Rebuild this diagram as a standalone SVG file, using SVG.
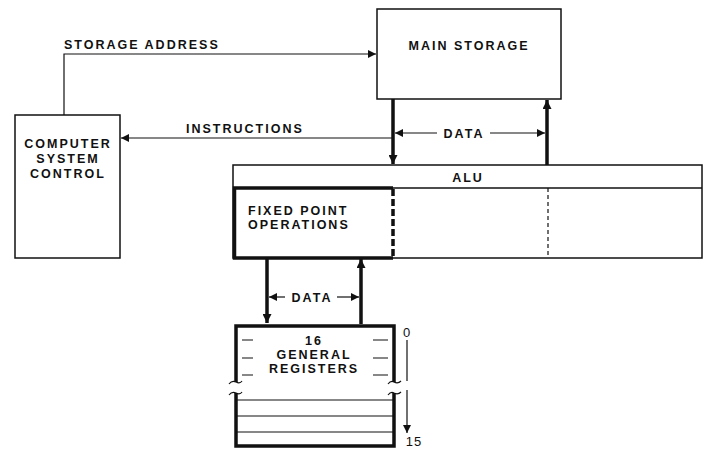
<svg xmlns="http://www.w3.org/2000/svg" width="709" height="449" viewBox="0 0 709 449">
<defs>
<style>
.t{font-family:"Liberation Sans",Arial,sans-serif;font-weight:bold;font-size:12.5px;fill:#111;letter-spacing:2px}
.n{font-family:"Liberation Sans",Arial,sans-serif;font-size:13px;fill:#111;letter-spacing:1px}
.thin{fill:none;stroke:#111;stroke-width:1.5}
.thick{fill:none;stroke:#111;stroke-width:3.5}
.hair{fill:none;stroke:#111;stroke-width:1.2}
</style>
<marker id="ah" viewBox="0 0 10 10" refX="10" refY="5" markerWidth="10" markerHeight="8" markerUnits="userSpaceOnUse" orient="auto">
<path d="M0,0 L10,5 L0,10 z" fill="#111"/>
</marker>
<marker id="ahb" viewBox="0 0 10 10" refX="10" refY="5" markerWidth="10" markerHeight="9" markerUnits="userSpaceOnUse" orient="auto">
<path d="M0,0 L10,5 L0,10 z" fill="#111"/>
</marker>
</defs>
<rect width="709" height="449" fill="#fff"/>

<g id="connectors">
<path class="hair" d="M64,115 V54 H376" marker-end="url(#ah)"/>
<text class="t" x="64" y="49">STORAGE ADDRESS</text>
<path class="hair" d="M393,138 H121" marker-end="url(#ah)"/>
<text class="t" x="186" y="133">INSTRUCTIONS</text>
<path class="thick" d="M393,99 V164" marker-end="url(#ahb)"/>
<path class="thick" d="M547,165 V100" marker-end="url(#ahb)"/>
<path class="hair" d="M437,133 H395" marker-end="url(#ah)"/>
<path class="hair" d="M490,133 H545" marker-end="url(#ah)"/>
<text class="t" x="464" y="137.5" text-anchor="middle">DATA</text>
<path class="thick" d="M267,258 V323" marker-end="url(#ahb)"/>
<path class="thick" d="M361,324 V259" marker-end="url(#ahb)"/>
<path class="hair" d="M285,297 H269" marker-end="url(#ah)"/>
<path class="hair" d="M337,297 H359" marker-end="url(#ah)"/>
<text class="t" x="312" y="301.5" text-anchor="middle">DATA</text>
</g>

<g id="main-storage">
<rect class="thin" x="377" y="9" width="184" height="90"/>
<text class="t" x="469" y="50" text-anchor="middle">MAIN STORAGE</text>
</g>

<g id="computer-system-control">
<rect class="thin" x="15" y="115" width="105" height="143"/>
<text class="t" x="68" y="147.5" text-anchor="middle">COMPUTER</text>
<text class="t" x="68" y="162.5" text-anchor="middle">SYSTEM</text>
<text class="t" x="68" y="177.5" text-anchor="middle">CONTROL</text>
</g>

<g id="alu">
<rect class="thin" x="233" y="165" width="469" height="93"/>
<line class="thin" x1="233" y1="188" x2="702" y2="188"/>
<text class="t" x="468" y="181.5" text-anchor="middle">ALU</text>
<line x1="548" y1="188" x2="548" y2="258" stroke="#111" stroke-width="1.2" stroke-dasharray="4,3"/>
</g>

<g id="fixed-point">
<path class="thick" d="M393,188 H234.5 V258 H393"/>
<line x1="393" y1="189" x2="393" y2="258" stroke="#111" stroke-width="3.5" stroke-dasharray="7,3"/>
<text class="t" x="248" y="214.5">FIXED POINT</text>
<text class="t" x="248" y="228.5">OPERATIONS</text>
</g>

<g id="registers">
<path class="thick" d="M236,382 V326 H394 V382"/>
<path class="thick" d="M236,393 V446 H394 V393"/>
<path class="hair" d="M229,384 Q232,380 236,382 Q240,384 242,381"/>
<path class="hair" d="M388,384 Q391,380 394,382 Q398,384 401,381"/>
<path class="hair" d="M229,395 Q232,391 236,393 Q240,395 242,392"/>
<path class="hair" d="M388,395 Q391,391 394,393 Q398,395 401,392"/>
<path class="hair" d="M242,340 H253 M242,358 H253 M242,375 H253 M373,340 H388 M373,358 H388 M373,375 H388"/>
<path class="hair" d="M236,400 H394 M236,416 H394 M236,432 H394"/>
<text class="t" x="314" y="344.5" text-anchor="middle">16</text>
<text class="t" x="314" y="358.5" text-anchor="middle">GENERAL</text>
<text class="t" x="314" y="372.5" text-anchor="middle">REGISTERS</text>
<text class="n" x="407" y="336.5" text-anchor="middle">0</text>
<line class="hair" x1="407" y1="340" x2="407" y2="381"/>
<path class="hair" d="M407,390 V433" marker-end="url(#ah)"/>
<text class="n" x="414" y="446" text-anchor="middle">15</text>
</g>
</svg>
